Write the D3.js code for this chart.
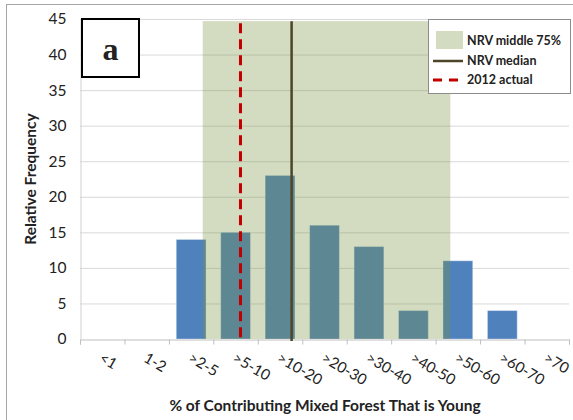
<!DOCTYPE html>
<html>
<head>
<meta charset="utf-8">
<script src="https://cdn.jsdelivr.net/npm/d3@7"></script>
<style>
html,body{margin:0;padding:0;background:#fff;}
svg{display:block;}
text{font-family:Lato,"Open Sans",sans-serif;fill:#222;}
</style>
</head>
<body>
<svg id="chart" width="573" height="420"></svg>
<script>
// ---- data ----
const categories = ["<1","1-2",">2-5",">5-10",">10-20",">20-30",">30-40",">40-50",">50-60",">60-70",">70"];
const frequency = [0,0,14,15,23,16,13,4,11,4,0];
const yTicks = [0,5,10,15,20,25,30,35,40,45];
// reference markers, in category-index units along the x axis
const nrvMiddle = [2.76, 8.33];   // NRV middle 75% range
const nrvMiddleTop = 44.7;
const nrvMedian = 4.76;
const actual2012 = 3.61;
const legendLabels = ["NRV middle 75%","NRV median","2012 actual"];

const svg = d3.select("#chart");
const L = 80, R = 569, T = 19, B = 339;

// outer frame
svg.append("rect").attr("x",6.5).attr("y",4.5).attr("width",600).attr("height",500)
  .attr("fill","none").attr("stroke","#a6a6a6");

const x = d3.scaleBand().domain(categories).range([L,R]).paddingInner(0.33).paddingOuter(0.165);
const xl = d3.scaleLinear().domain([0,categories.length]).range([L,R]);
const y = d3.scaleLinear().domain([0,45]).range([B,T]);

// gridlines
svg.append("g").selectAll("line").data(yTicks.filter(d=>d>0)).join("line")
  .attr("x1",L).attr("x2",R).attr("y1",d=>y(d)+0.5).attr("y2",d=>y(d)+0.5)
  .attr("stroke","#d9d9d9").attr("stroke-width",1);

// y axis
const yAxis = svg.append("g").attr("transform",`translate(${L+0.5},0)`)
  .call(d3.axisLeft(y).tickValues(yTicks).tickSize(0).tickPadding(14));
yAxis.select(".domain").attr("stroke","#d0d0d0");
yAxis.selectAll("text").style("font-size","15.5px").style("font-family","Lato").attr("fill","#222");

// bars
svg.append("g").selectAll("rect").data(frequency.map((v,i)=>({c:categories[i],v}))).join("rect")
  .attr("x",d=>x(d.c)).attr("width",x.bandwidth())
  .attr("y",d=>y(d.v)).attr("height",d=>y(0)-y(d.v))
  .attr("fill","#4f81bd").attr("stroke","rgba(255,255,255,0.35)").attr("stroke-width",1);

// NRV middle 75% band (semi-transparent, on top of bars)
svg.append("rect")
  .attr("x",xl(nrvMiddle[0])).attr("width",xl(nrvMiddle[1])-xl(nrvMiddle[0]))
  .attr("y",y(nrvMiddleTop)).attr("height",y(0)-y(nrvMiddleTop))
  .attr("fill","rgb(121,149,64)").attr("fill-opacity",0.33);

// x axis
const xAxis = svg.append("g").attr("transform",`translate(0,${B+0.5})`)
  .call(d3.axisBottom(xl).tickValues(d3.range(0,categories.length+1)).tickSize(5).tickFormat(""));
xAxis.select(".domain").attr("stroke","#bfbfbf");
xAxis.selectAll(".tick line").attr("stroke","#bfbfbf");

// x tick labels
svg.append("g").selectAll("text").data(categories).join("text")
  .attr("transform",d=>`translate(${x(d)+x.bandwidth()/2-4},${B+22}) rotate(30)`)
  .attr("text-anchor","start")
  .style("font-size","15px")
  .text(d=>d);

// median line
svg.append("line").attr("x1",xl(nrvMedian)).attr("x2",xl(nrvMedian))
  .attr("y1",y(nrvMiddleTop)).attr("y2",y(0)+2)
  .attr("stroke","#4d4528").attr("stroke-width",2.5);

// 2012 actual
svg.append("line").attr("x1",xl(actual2012)).attr("x2",xl(actual2012))
  .attr("y1",y(nrvMiddleTop)+2).attr("y2",y(0))
  .attr("stroke","#c00000").attr("stroke-width",3).attr("stroke-dasharray","10,6");

// axis titles
svg.append("text").attr("x",325).attr("y",411).attr("text-anchor","middle")
  .style("font-size","15.5px").style("font-weight","bold").text("% of Contributing Mixed Forest That is Young");
svg.append("text").attr("transform",`translate(36,${(T+B)/2}) rotate(-90)`).attr("text-anchor","middle")
  .style("font-size","15.5px").style("font-weight","bold").text("Relative Frequency");

// panel label
svg.append("rect").attr("x",82).attr("y",19).attr("width",57).attr("height",58)
  .attr("fill","#fff").attr("stroke","#000").attr("stroke-width",2);
svg.append("text").attr("x",110.5).attr("y",60).attr("text-anchor","middle")
  .style("font-family","'Liberation Serif','DejaVu Serif',serif").style("font-size","32px").style("font-weight","bold")
  .attr("fill","#000").text("a");

// legend
const lg = svg.append("g");
lg.append("rect").attr("x",428.5).attr("y",19.5).attr("width",142).attr("height",74)
  .attr("fill","#fff").attr("stroke","#8c8c8c");
lg.append("rect").attr("x",436).attr("y",31).attr("width",27).attr("height",18)
  .attr("fill","rgb(121,149,64)").attr("fill-opacity",0.33);
lg.append("line").attr("x1",433).attr("x2",463).attr("y1",61).attr("y2",61)
  .attr("stroke","#4d4528").attr("stroke-width",2.5);
lg.append("line").attr("x1",433).attr("x2",463).attr("y1",80).attr("y2",80)
  .attr("stroke","#c00000").attr("stroke-width",3).attr("stroke-dasharray","9,7");
lg.selectAll("text.lt").data(legendLabels).join("text").attr("class","lt")
  .attr("x",467).attr("y",(d,i)=>45+i*19.5)
  .style("font-size","12.5px").style("font-weight","bold").text(d=>d);
</script>
</body>
</html>
